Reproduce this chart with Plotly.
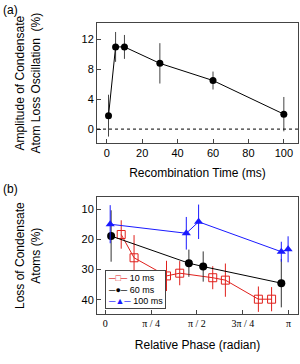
import plotly.graph_objects as go
from plotly.subplots import make_subplots

# Panel (a)
rec_time = [1, 5, 10, 30, 60, 100]
amp = [1.8, 11.0, 11.0, 8.8, 6.5, 2.0]
amp_err = [2.8, 2.0, 1.6, 2.7, 1.2, 2.3]

# Panel (b) -- phase in units of pi
ph10 = [0.087, 0.157, 0.334, 0.406, 0.586, 0.655, 0.835, 0.907]
loss10 = [18.4, 26.1, 32.1, 31.2, 32.7, 33.5, 39.8, 39.8]
err10 = [4.7, 7.5, 5.0, 4.0, 3.8, 5.5, 4.2, 4.0]

ph60 = [0.032, 0.456, 0.534, 0.96]
loss60 = [18.9, 27.9, 29.0, 34.5]
err60 = [8.5, 4.5, 5.0, 8.0]

ph100 = [0.027, 0.442, 0.509, 0.96, 0.997]
loss100 = [15.0, 18.0, 14.2, 24.1, 23.3]
err100 = [6.3, 5.4, 5.7, 3.3, 4.3]

phase_ticks = [0, 0.25, 0.5, 0.75, 1.0]
phase_ticktext = ["0", "π / 4", "π / 2", "3π / 4", "π"]

series_names = ["10 ms", "60 ms", "100 ms"]

FONT = "Liberation Sans, Arial, sans-serif"
RED = "#e0201c"
BLUE = "#1a1aff"

fig = make_subplots(rows=2, cols=1, vertical_spacing=0.0)

fig.add_trace(go.Scatter(
    x=rec_time, y=amp, mode="lines+markers",
    line=dict(color="black", width=1),
    marker=dict(color="black", size=7, symbol="circle"),
    error_y=dict(type="data", array=amp_err, color="#444", thickness=1, width=0),
    showlegend=False), row=1, col=1)

fig.add_trace(go.Scatter(
    x=ph10, y=loss10, mode="lines+markers", name=series_names[0],
    line=dict(color=RED, width=1),
    marker=dict(color=RED, size=8, symbol="square-open", line=dict(width=1)),
    error_y=dict(type="data", array=err10, color=RED, thickness=1, width=0),
    showlegend=False), row=2, col=1)

fig.add_trace(go.Scatter(
    x=ph60, y=loss60, mode="lines+markers", name=series_names[1],
    line=dict(color="black", width=1),
    marker=dict(color="black", size=8, symbol="circle"),
    error_y=dict(type="data", array=err60, color="#333", thickness=1, width=0),
    showlegend=False), row=2, col=1)

fig.add_trace(go.Scatter(
    x=ph100, y=loss100, mode="lines+markers", name=series_names[2],
    line=dict(color=BLUE, width=1),
    marker=dict(color=BLUE, size=8, symbol="triangle-up"),
    error_y=dict(type="data", array=err100, color=BLUE, thickness=1, width=0),
    showlegend=False), row=2, col=1)

fig.add_hline(y=0, line=dict(color="black", width=1, dash="dot"), row=1, col=1)

axcommon = dict(showline=True, mirror=True, linecolor="#444", linewidth=1,
                ticks="inside", ticklen=4, tickcolor="#444", showgrid=False,
                zeroline=False, automargin=False,
                tickfont=dict(family=FONT, size=11, color="black"))

TFONT = dict(family=FONT, size=12, color="black")

fig.update_xaxes(range=[-5.5, 108], tickvals=[0, 20, 40, 60, 80, 100],
                 title=dict(text="Recombination Time (ms)", font=TFONT, standoff=10),
                 domain=[0, 1], row=1, col=1, **axcommon)
fig.update_yaxes(range=[-1.9, 14.2], tickvals=[0, 4, 8, 12],
                 title=dict(text="Amplitude of Condensate<br>Atom Loss Oscillation  (%)",
                            font=TFONT, standoff=38),
                 domain=[0.5866, 1.0], row=1, col=1, **axcommon)

fig.update_xaxes(range=[-0.045, 1.051], tickvals=phase_ticks, ticktext=phase_ticktext,
                 title=dict(text="Relative Phase (radian)", font=TFONT, standoff=12),
                 row=2, col=1, **{**axcommon, "tickfont": dict(family="Liberation Serif, serif", size=10, color="black")})
fig.update_yaxes(range=[44.7, 6.1], tickvals=[10, 20, 30, 40],
                 title=dict(text="Loss of Condensate<br>Atoms (%)",
                            font=TFONT, standoff=38),
                 domain=[0.0, 0.401], row=2, col=1, **axcommon)

fig.add_annotation(text="(a)", xref="paper", yref="paper", x=-0.48, y=1.045,
                   xanchor="left", yanchor="middle", showarrow=False,
                   font=dict(family=FONT, size=12, color="black"))
fig.add_annotation(text="(b)", xref="paper", yref="paper", x=-0.48, y=0.43,
                   xanchor="left", yanchor="middle", showarrow=False,
                   font=dict(family=FONT, size=12, color="black"))

# text-based legend for panel (b)
legend_text = "<br>".join([
    f"<span style='color:{RED}'>─□─</span> {series_names[0]}",
    f"<span style='color:black'>─●─</span> {series_names[1]}",
    f"<span style='color:{BLUE}'>─▲─</span> {series_names[2]}",
])
fig.add_annotation(text=legend_text, xref="x2 domain", yref="y2 domain",
                   x=0.04, y=0.04, xanchor="left", yanchor="bottom", align="left",
                   showarrow=False, bgcolor="white", bordercolor="#444", borderwidth=1,
                   borderpad=2, font=dict(family=FONT, size=9, color="black"))

fig.update_layout(
    width=300, height=364,
    margin=dict(l=97, r=2, t=23, b=50),
    paper_bgcolor="white", plot_bgcolor="white",
    font=dict(family=FONT, size=11, color="black"),
    showlegend=False,
)

fig.write_html("out.html", config={"displayModeBar": False},
               post_script="document.body.style.margin='0';document.body.style.overflow='hidden';")
